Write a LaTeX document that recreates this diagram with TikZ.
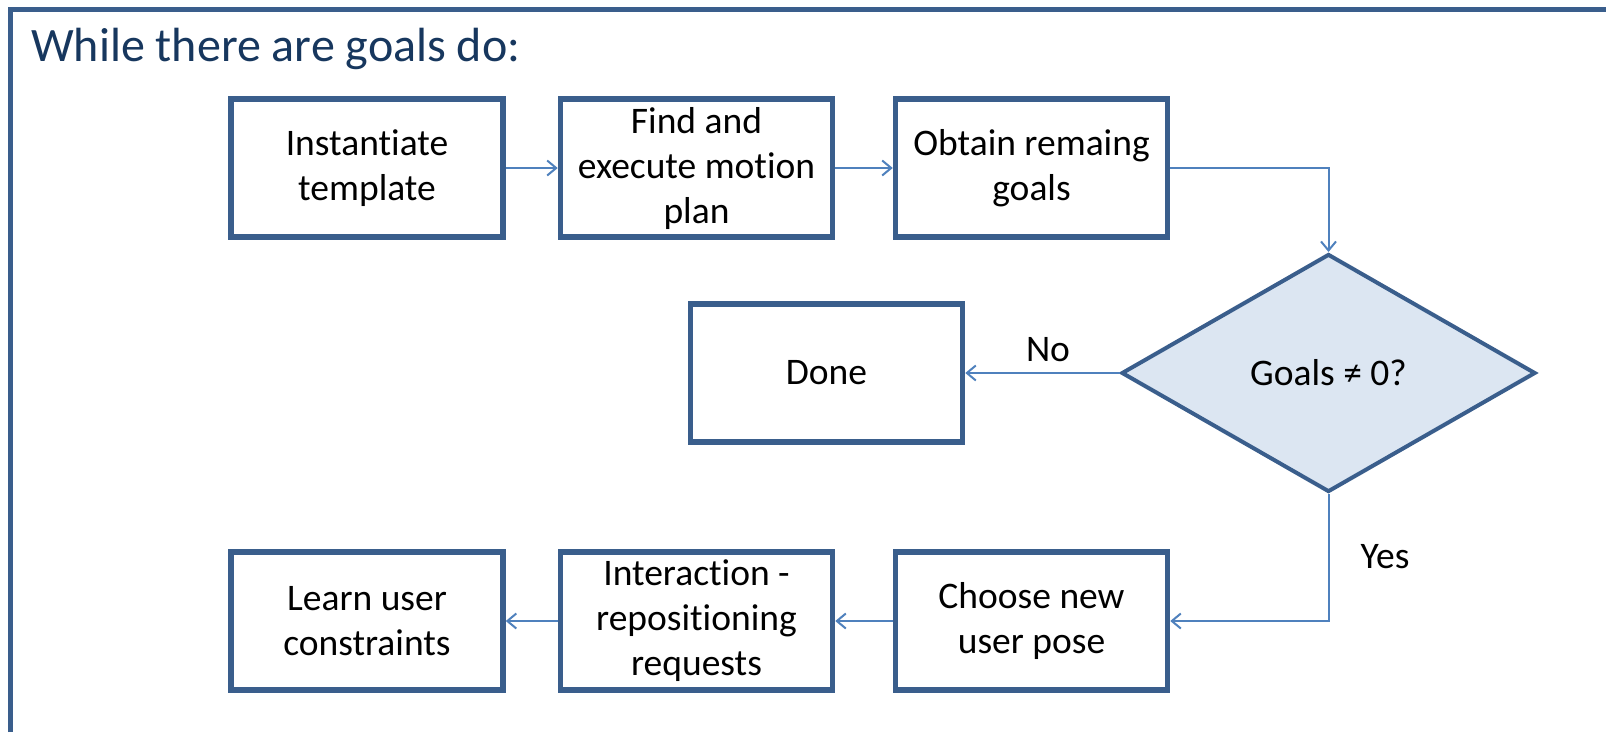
\documentclass[tikz,border=0pt]{standalone}
\usepackage{fontspec}
\setmainfont{Carlito}[Ligatures={NoCommon}]
\usetikzlibrary{arrows.meta,shapes.geometric}
\definecolor{boxcol}{RGB}{58,94,140}
\definecolor{arrcol}{RGB}{79,129,189}
\definecolor{dfill}{RGB}{220,230,242}
\definecolor{titlecol}{RGB}{23,55,94}
\begin{document}
\begin{tikzpicture}[x=1pt,y=-1pt,
  stepbox/.style={draw=boxcol,line width=5.5pt,fill=white,minimum width=272pt,minimum height=138pt,
    align=center,font=\fontsize{37.5}{45}\selectfont,inner sep=0pt},
  decis/.style={diamond,draw=boxcol,line width=4pt,fill=dfill,minimum width=414pt,minimum height=238pt,
    inner sep=0pt,font=\fontsize{37.5}{45}\selectfont},
  conn/.style={draw=arrcol,line width=2pt,-{Straight Barb[length=9pt,width=15pt,line width=2pt]}},
  lbl/.style={font=\fontsize{37.5}{45}\selectfont,inner sep=0pt}]
\useasboundingbox (0,0) rectangle (1606,732);
% frame
\draw[boxcol,line width=5pt] (10,732) -- (10,9.5) -- (1606,9.5);
\node[anchor=base west,font=\fontsize{48}{55}\selectfont,text=titlecol,inner sep=0pt] (title) at (31,61) {While there are goals do:};
% boxes
\node[stepbox] (b1) at (367,168) {Instantiate\\template};
\node[stepbox] (b2) at (696.5,168) {Find and\\execute motion\\plan};
\node[stepbox] (b3) at (1031.5,168) {Obtain remaing\\goals};
\node[decis] (d) at (1328.5,373) {Goals ≠ 0?};
\node[stepbox] (done) at (826.5,373) {Done};
\node[stepbox] (c1) at (1031.5,621) {Choose new\\user pose};
\node[stepbox] (c2) at (696.5,621) {Interaction -\\repositioning\\requests};
\node[stepbox] (c3) at (367,621) {Learn user\\constraints};
% connectors
\draw[conn] (b1.east) -- (b2.west);
\draw[conn] (b2.east) -- (b3.west);
\draw[conn] (b3.east) -| (d.north);
\draw[conn] (d.west) -- (done.east);
\draw[conn] (d.south) |- (c1.east);
\draw[conn] (c1.west) -- (c2.east);
\draw[conn] (c2.west) -- (c3.east);
\node[lbl] (no) at (1048,350) {No};
\node[lbl] (yes) at (1385,557) {Yes};
\end{tikzpicture}
\end{document}
